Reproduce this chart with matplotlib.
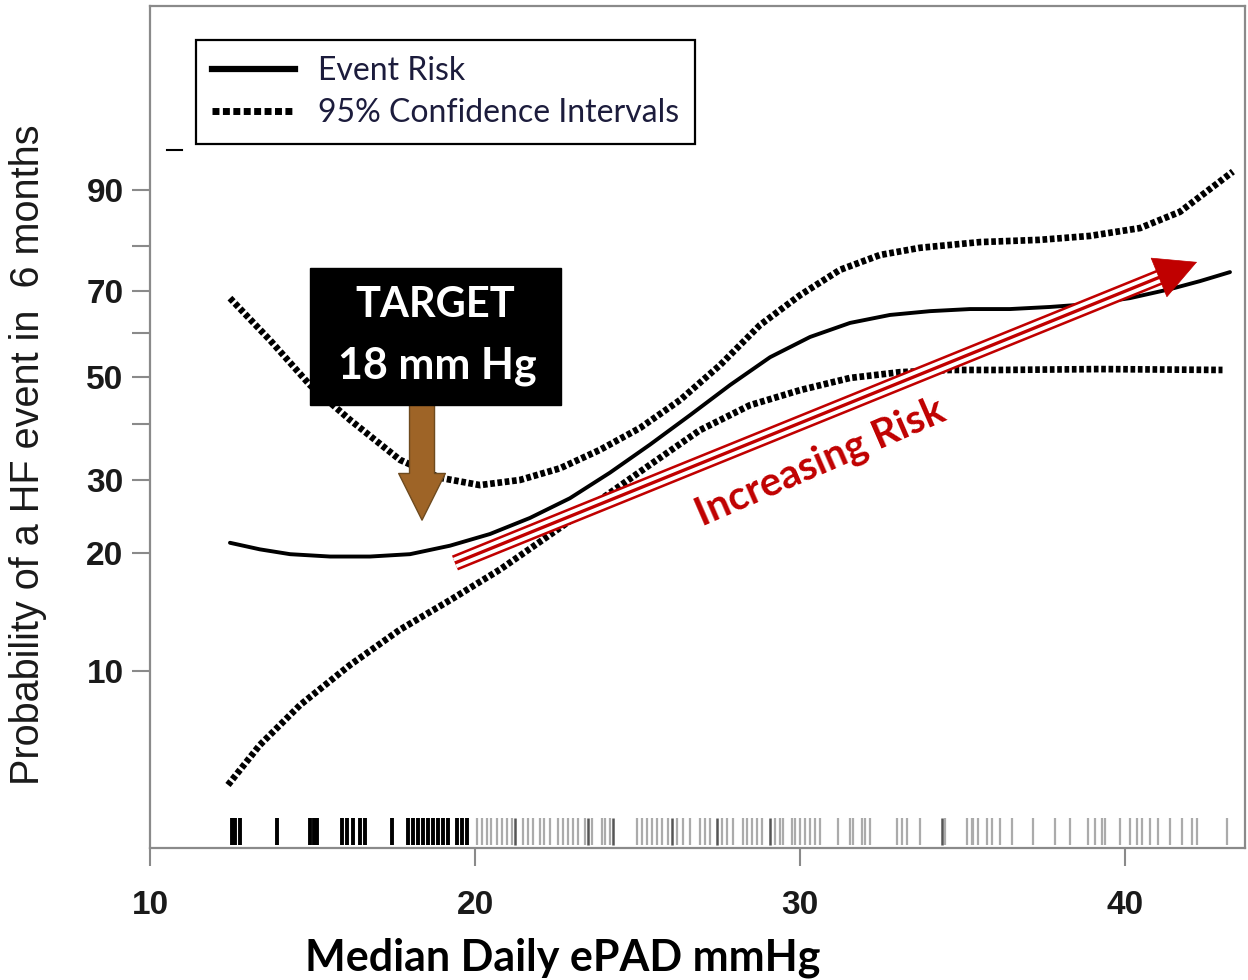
import numpy as np
import matplotlib
matplotlib.use("Agg")
import matplotlib.pyplot as plt
from matplotlib.lines import Line2D
from matplotlib.patches import Rectangle

# event risk curve (x = median daily ePAD, y = probability %)
x_risk = [12.46, 13.38, 14.31, 15.54, 16.77, 18.0, 19.23, 20.46, 21.69, 22.92, 24.15, 25.38, 26.62,
          27.85, 29.08, 30.31, 31.54, 32.77, 34.0, 35.23, 36.46, 37.69, 38.92, 40.15, 41.38, 42.31, 43.23]
risk = [21.4, 20.5, 19.9, 19.7, 19.7, 19.9, 21.0, 22.6, 24.8, 27.5, 31.3, 36.3, 41.9,
        48.3, 54.5, 59.1, 62.4, 64.3, 65.2, 65.7, 65.7, 66.2, 66.9, 68.3, 70.4, 72.2, 74.2]

# 95% CI
x_upper = [12.46, 13.69, 14.92, 16.15, 17.69, 18.92, 20.15, 21.38, 22.62, 23.85, 25.08, 26.31, 27.54,
           28.77, 30.0, 31.23, 32.46, 33.69, 35.54, 37.38, 38.92, 40.46, 41.69, 43.32]
upper = [68.3, 58.4, 48.3, 40.9, 33.6, 30.4, 29.3, 30.0, 32.1, 35.4, 39.3, 45.1, 52.7,
         61.9, 69.0, 74.7, 78.0, 79.6, 80.7, 81.1, 81.8, 83.2, 86.1, 91.0]
x_lower = [12.4, 13.38, 14.62, 16.15, 17.69, 19.23, 20.77, 22.31, 23.85, 25.38, 26.92, 28.46,
           30.0, 31.54, 33.08, 34.62, 36.15, 39.23, 43.0]
lower = [3.56, 5.82, 8.08, 10.5, 13.5, 16.0, 18.6, 22.5, 27.3, 32.7, 38.9, 44.0,
         47.2, 49.8, 51.1, 51.6, 51.6, 51.8, 51.6]

# rug of patient values
rug_black = [12.52, 12.62, 12.77, 13.91, 14.92, 15.05, 15.14, 15.91, 16.06, 16.25, 16.46, 16.62,
             17.45, 17.94, 18.09, 18.25, 18.4, 18.55, 18.71, 18.86, 19.02, 19.17, 19.45, 19.6, 19.75]
rug_gray = [20.07, 20.21, 20.36, 20.48, 20.67, 20.82, 20.98, 21.13, 21.49, 21.64, 21.79, 22.0,
            22.12, 22.31, 22.56, 22.72, 22.87, 23.02, 23.18, 23.38, 23.59, 23.9, 24.0, 24.15,
            24.98, 25.13, 25.28, 25.44, 25.59, 25.74, 25.95, 26.21, 26.41, 26.62, 26.92, 27.08,
            27.23, 27.59, 27.74, 27.95, 28.26, 28.36, 28.51, 28.67, 28.82, 29.23, 29.38, 29.49,
            29.74, 29.85, 30.0, 30.15, 30.31, 30.46, 30.62, 31.18, 31.54, 31.64, 31.9, 32.0,
            32.15, 32.98, 33.13, 33.28, 33.69, 34.46, 35.13, 35.28, 35.33, 35.49, 35.74, 35.9,
            36.15, 36.51, 37.18, 37.85, 38.31, 38.87, 39.08, 39.28, 39.38, 39.85, 40.15, 40.36,
            40.51, 40.77, 41.02, 41.38, 41.74, 42.05, 42.2, 43.13]
rug_dark = [21.23, 23.49, 24.26, 26.05, 27.44, 29.08, 34.36]

y_ticks = [10, 20, 30, 40, 50, 60, 70, 80, 90]
y_labels = ["10", "20", "30", "", "50", "", "70", "", "90"]
x_ticks = [10, 20, 30, 40]

# the vertical scale of the original figure (probability -> position)
knot_p = [0, 10, 20, 30, 40, 50, 60, 70, 80, 90, 100]
knot_pos = [0, 177, 295, 368, 424, 471, 515, 557, 602, 658, 842]


def fwd(v):
    return np.interp(v, knot_p, knot_pos)


def inv(v):
    return np.interp(v, knot_pos, knot_p)


red = "#C00000"
frame = "#8a8a8a"

fig = plt.figure(figsize=(12.48, 9.8), dpi=100)
ax = fig.add_axes([150 / 1248, 132 / 980, 1095 / 1248, 842 / 980])
ax.set_yscale("function", functions=(fwd, inv))
ax.set_xlim(10, 10 + 1095 / 32.5)
ax.set_ylim(0, 100)

ax.plot(x_risk, risk, color="black", lw=2.8, solid_capstyle="round", zorder=3)
dots = (0, (0.7, 0.4))
ax.plot(x_upper, upper, color="black", lw=4.8, linestyle=dots, zorder=3)
ax.plot(x_lower, lower, color="black", lw=4.8, linestyle=dots, zorder=3)

xt = ax.get_xaxis_transform()
ax.vlines(rug_gray, 0.004, 0.036, color="#ababab", lw=1.6, transform=xt, zorder=2)
ax.vlines(rug_dark, 0.004, 0.036, color="#555555", lw=1.8, transform=xt, zorder=2)
ax.vlines(rug_black, 0.004, 0.036, color="black", lw=2.8, transform=xt, zorder=2)

for s in ax.spines.values():
    s.set_color(frame)
    s.set_linewidth(1.6)

ax.set_xticks(x_ticks)
ax.set_yticks(y_ticks)
ax.set_yticklabels(y_labels)
ax.yaxis.set_minor_locator(matplotlib.ticker.NullLocator())
ax.tick_params(axis="both", colors=frame, length=13, width=1.5)
ax.tick_params(axis="x", pad=17)
ax.tick_params(axis="y", pad=6)
for lab in ax.get_xticklabels() + ax.get_yticklabels():
    lab.set_color("#1a1a1a")
    lab.set_fontfamily("Liberation Sans")
    lab.set_fontweight("bold")
    lab.set_fontsize(24)

fig.text(28 / 1248, 1 - 455 / 980, "Probability of a HF event in  6 months", rotation=90,
         ha="center", va="center", fontsize=28.5, family="Liberation Sans", color="#1a1a1a")
fig.text(563 / 1248, 1 - 958 / 980, "Median Daily ePAD mmHg", ha="center", va="center",
         fontsize=31, family="Lato", weight="bold", color="black")

# stray tick mark from the original
ax.plot([0.0155, 0.0292], [0.829, 0.829], color="black", lw=1.5, transform=ax.transAxes)

# legend
handles = [Line2D([], [], color="black", lw=4.5),
           Line2D([], [], color="black", lw=5, linestyle=(0, (1, 0.5)))]
leg = ax.legend(handles, ["Event Risk", "95% Confidence Intervals"], loc="upper left",
                bbox_to_anchor=(0.042, 0.9596), borderaxespad=0, fancybox=False,
                edgecolor="black", framealpha=1, handlelength=2.6, handletextpad=0.72,
                borderpad=0.5, labelspacing=0.38, prop={"family": "Lato", "size": 23})
leg.get_frame().set_linewidth(1.6)
for t in leg.get_texts():
    t.set_color("#1c1c3c")

# TARGET box and arrow
ax.annotate("", xy=(18.37, 24.5), xytext=(18.37, 47),
            arrowprops=dict(arrowstyle="simple,head_length=0.56,head_width=0.56,tail_width=0.3",
                            mutation_scale=60, facecolor="#9E6427", edgecolor="#6e4a1e",
                            lw=1, shrinkA=0, shrinkB=0), zorder=4)
ax.add_patch(Rectangle((0.1461, 0.5261), 0.2292, 0.1627, transform=ax.transAxes,
                       facecolor="black", edgecolor="black", zorder=5))
ax.text(0.2603, 0.6449, "TARGET", transform=ax.transAxes, ha="center", va="center",
        color="white", fontsize=30, family="Lato", weight="bold", zorder=6)
ax.text(0.2621, 0.5724, "18 mm Hg", transform=ax.transAxes, ha="center", va="center",
        color="white", fontsize=31, family="Lato", weight="bold", zorder=6)

# striped "Increasing Risk" arrow
sx, sy = 0.2785, 0.3385
ex, ey = 0.9224, 0.6781
for w, c in [(11.5, red), (7.8, "white"), (2.4, red)]:
    ax.plot([sx, ex], [sy, ey], color=c, lw=w, solid_capstyle="butt",
            transform=ax.transAxes, zorder=4)
ax.annotate("", xy=(0.9562, 0.6960), xytext=(ex, ey), xycoords="axes fraction",
            arrowprops=dict(arrowstyle="-|>,head_length=1.45,head_width=0.75",
                            mutation_scale=20, color=red, lw=0.5, shrinkA=0, shrinkB=0),
            zorder=4)
ax.text(0.6119, 0.4584, "Increasing Risk", transform=ax.transAxes, ha="center", va="center",
        rotation=23.5, rotation_mode="anchor", color=red, fontsize=29, family="Lato",
        weight="bold", zorder=4)

fig.savefig("out.png", dpi=100)
